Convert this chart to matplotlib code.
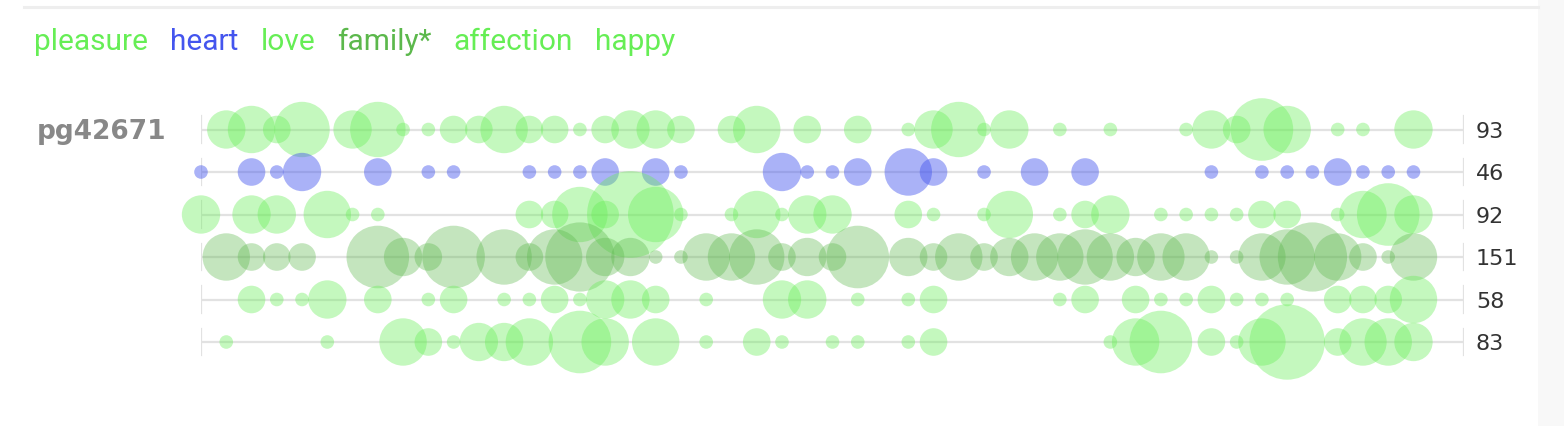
import numpy as np
import matplotlib
matplotlib.use("Agg")
import matplotlib.pyplot as plt

# word series, one count per text segment (50 segments)
words = ["pleasure", "heart", "love", "family*", "affection", "happy"]
word_colors = ["#66ee55", "#4455ee", "#66ee55", "#5cb84c", "#66ee55", "#66ee55"]
totals = [93, 46, 92, 151, 58, 83]
book = "pg42671"

pleasure = [0, 3, 4, 2, 5, 0, 3, 5, 1, 1,
            2, 2, 4, 2, 2, 1, 2, 3, 3, 2,
            0, 2, 4, 0, 2, 0, 2, 0, 1, 3,
            5, 1, 3, 0, 1, 0, 1, 0, 0, 1,
            3, 2, 6, 4, 0, 1, 1, 0, 3, 0]
heart = [1, 0, 2, 1, 3, 0, 0, 2, 0, 1,
         1, 0, 0, 1, 1, 1, 2, 0, 2, 1,
         0, 0, 0, 3, 1, 1, 2, 0, 4, 2,
         0, 1, 0, 2, 0, 2, 0, 0, 0, 0,
         1, 0, 1, 1, 1, 2, 1, 1, 1, 0]
love = [3, 0, 3, 3, 0, 4, 1, 1, 0, 0,
        0, 0, 0, 2, 2, 5, 2, 10, 5, 1,
        0, 1, 4, 1, 3, 3, 0, 0, 2, 1,
        0, 1, 4, 0, 1, 2, 3, 0, 1, 1,
        1, 1, 2, 2, 0, 1, 4, 6, 3, 0]
family = [0, 4, 2, 2, 2, 0, 0, 6, 3, 2,
          6, 0, 5, 2, 5, 7, 3, 3, 1, 1,
          4, 4, 5, 2, 3, 2, 6, 0, 3, 2,
          4, 2, 3, 4, 4, 5, 4, 3, 4, 4,
          1, 1, 4, 5, 7, 4, 2, 1, 4, 0]
affection = [0, 0, 2, 1, 1, 3, 0, 2, 0, 1,
             2, 0, 1, 1, 2, 1, 3, 3, 2, 0,
             1, 0, 0, 3, 3, 0, 1, 0, 1, 2,
             0, 0, 0, 0, 1, 2, 0, 2, 1, 1,
             2, 1, 1, 1, 0, 2, 2, 2, 4, 0]
happy = [0, 1, 0, 0, 0, 1, 0, 0, 4, 2,
         1, 3, 3, 4, 0, 6, 4, 0, 4, 0,
         1, 0, 2, 1, 0, 1, 1, 0, 1, 2,
         0, 0, 0, 0, 0, 0, 1, 4, 6, 0,
         2, 1, 4, 8, 0, 2, 4, 4, 3, 0]
series = [pleasure, heart, love, family, affection, happy]

W, H = 1564, 426
fig = plt.figure(figsize=(W / 100, H / 100), dpi=100)
fig.patch.set_facecolor("white")

# top rule and right grey strip
fig.add_artist(plt.Line2D([24 / W, 1538 / W], [1 - 7 / H, 1 - 7 / H], color="#eeeeee", lw=2.2))
fig.add_artist(plt.Rectangle((1538 / W, 0), 26 / W, 1, color="#f8f8f8", lw=0))

n_seg = len(pleasure)
row_top, row_gap = 129.5, 42.5
ax_top = row_top - row_gap
ax_bot = row_top + row_gap * len(series)
ax = fig.add_axes([201 / W, 1 - ax_bot / H, 1263 / W, (ax_bot - ax_top) / H])
ax.set_xlim(0, n_seg)
ax.set_ylim(len(series), -1)
ax.axis("off")


def radius_px(c):
    return 16.9 * np.sqrt(c) - 10.1


for row, (vals, col) in enumerate(zip(series, word_colors)):
    ax.plot([0, n_seg], [row, row], color="#e2e2e2", lw=1.6, zorder=1, solid_capstyle="butt")
    for xe in (0, n_seg):
        ax.plot([xe, xe], [row - 0.31, row + 0.31], color="#e2e2e2", lw=1.6, zorder=1)
    vals = np.array(vals)
    idx = np.nonzero(vals)[0]
    r = radius_px(vals[idx])
    alpha = {"#4455ee": 0.45, "#5cb84c": 0.36}.get(col, 0.38)
    ax.scatter(idx, np.full(len(idx), row), s=(1.44 * r) ** 2, color=col,
               alpha=alpha, linewidths=0, zorder=2, clip_on=False)
    ax.annotate(str(totals[row]), xy=(n_seg, row), xytext=(8.6, -6.1),
                textcoords="offset points", va="baseline", ha="left",
                fontsize=16, color="#333333", family="DejaVu Sans")

fig.text(37 / W, 1 - 139 / H, book, fontsize=19, fontweight="bold",
         color="#888888", family="DejaVu Sans", va="baseline")

# legend words laid out one after another
renderer = fig.canvas.get_renderer()
x = 34
for w, col in zip(words, word_colors):
    t = fig.text(x / W, 1 - 50 / H, w, fontsize=21.5, color=col,
                 family="Roboto", va="baseline")
    bb = t.get_window_extent(renderer)
    x = bb.x1 + 22

fig.savefig("out.png", dpi=100)
